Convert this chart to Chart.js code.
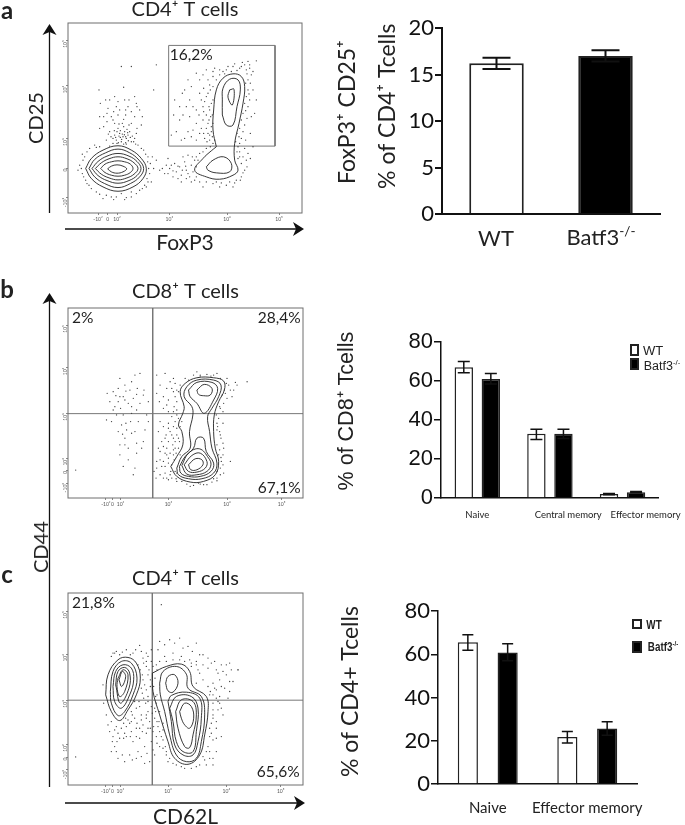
<!DOCTYPE html>
<html>
<head>
<meta charset="utf-8">
<script src="https://cdn.jsdelivr.net/npm/chart.js@4"></script>
<style>
  html, body { margin: 0; background: #fff; width: 685px; height: 825px; overflow: hidden; }
  canvas, .txt, svg { position: absolute; }
  .txt { color: #222; font-family: Lato, sans-serif; white-space: nowrap; transform: translate(-50%, -50%); }
  .txt sup { font-size: 62%; line-height: 0; }
  .box { position: absolute; box-sizing: border-box; border: 2px solid #222; background: #fff; }
  .box.black { background: #000; }
</style>
</head>
<body>
<svg width="685" height="825" style="left:0;top:0">
  <g stroke="#111" stroke-width="1.3" fill="none">
    <path d="M49.5 213V30M65 229H298"/>
    <path d="M49.5 787V299M65 803H300"/>
  </g>
  <g fill="#111">
    <path d="M49.5 24l7 11-7-3-7 3zM304 229l-11-7 3 7-3 7z"/>
    <path d="M49.5 293l7 11-7-3-7 3zM305 803l-11-7 3 7-3 7z"/>
  </g>
</svg>
<script>
// panel a, flow plot (readings in plot channel units)
const ticksAx = [295, 324, 352, 509, 682, 838];
const ticksAxText = ['-10²', '0', '10²', '10³', '10⁴', '10⁵'];
const ticksAy = [122, 258, 415, 505, 593];
const ticksAyText = ['10⁵', '10⁴', '10³', '0', '-10²'];
const gateA = [507,137, 826,137, 826,438, 507,438];
const contoursA = [
  [258,505, 275,475, 310,450, 355,437, 395,450, 425,475, 440,505, 430,535, 400,560, 355,573, 310,560, 275,535],
  [268,505, 285,478, 318,458, 355,447, 390,458, 418,480, 432,505, 420,530, 392,550, 355,562, 315,550, 285,530],
  [277,505, 295,484, 322,468, 355,460, 388,468, 412,484, 424,505, 412,526, 388,541, 355,549, 322,541, 295,526],
  [287,505, 305,488, 328,476, 355,470, 382,476, 403,488, 415,505, 403,522, 382,533, 355,539, 328,533, 305,522],
  [303,505, 316,492, 335,485, 355,482, 375,485, 392,492, 400,505, 392,517, 375,525, 355,528, 335,525, 316,517],
  [324,506, 335,498, 352,494, 370,498, 381,506, 370,515, 352,519, 335,515],
  [650,440, 640,390, 642,330, 650,270, 670,235, 700,222, 725,230, 735,260, 730,310, 718,370, 705,430, 705,480, 715,510, 700,525, 660,537, 620,530, 585,510, 610,475, 635,452],
  [668,345, 668,300, 670,265, 690,238, 715,240, 722,270, 712,320, 700,375, 680,375],
  [690,270, 703,268, 698,315, 685,292],
  [620,500, 640,480, 672,470, 695,490, 690,515, 650,518, 625,510]
];
const cellsA = [
  370,410, 360,400, 380,415, 350,420, 375,395, 385,405, 365,425, 345,405, 390,395, 355,385, 372,380, 340,430, 395,425, 378,428, 362,412, 352,395, 382,388, 368,370, 345,370, 395,370, 330,395, 410,400, 320,420, 312,380, 300,350, 335,350, 355,345, 378,345, 405,350, 420,330, 385,320, 350,320, 325,325, 298,270, 345,290, 375,300, 405,290, 372,262, 425,375, 322,365, 365,200, 395,200, 470,195, 462,270,
  358,408, 366,418, 374,404, 384,398, 392,412, 348,412, 356,428, 372,432, 386,422, 362,392, 378,410, 368,402, 352,430, 340,415, 398,408, 344,392, 334,410, 326,402, 405,415, 412,385, 388,375, 358,372, 372,358, 340,360, 312,350, 322,340, 360,330, 395,335, 412,320, 342,335, 378,330, 302,310, 330,300, 355,305, 388,300, 410,310, 428,350, 318,300, 300,385,
  245,505, 250,480, 252,530, 262,455, 270,445, 285,435, 262,550, 275,565, 290,575, 320,585, 350,590, 380,592, 410,580, 428,565, 445,545, 450,520, 452,490, 445,470, 432,450, 415,435, 300,440, 402,425, 235,510, 310,595, 375,598, 440,560,
  240,495, 248,520, 255,470, 258,540, 268,555, 300,582, 335,590, 365,580, 395,575, 420,570, 435,555, 442,535, 447,505, 444,485, 438,462, 425,445, 408,432, 380,432, 330,438, 290,442, 248,462, 342,598, 395,590, 455,545, 462,505, 458,470,
  480,510, 495,520, 510,505, 525,490, 530,515, 540,500, 545,525, 555,485, 560,510, 570,530, 575,495, 585,480, 590,470, 600,460, 565,465, 550,470, 520,530, 500,495, 470,480, 505,475, 545,545, 585,540, 600,545, 620,545, 640,550, 665,548, 690,545, 710,540, 725,530, 735,510, 725,490, 720,470, 745,460, 742,500, 715,475, 720,455, 700,560, 660,560, 610,560,
  488,505, 505,520, 515,495, 520,512, 535,498, 548,510, 558,498, 565,520, 580,515, 590,500, 578,470, 595,480, 610,455, 620,445, 632,440, 560,535, 535,535, 575,545, 590,530, 650,545, 680,555, 705,548, 722,540, 730,518, 740,480, 730,470, 712,455, 715,440, 735,445, 752,475, 760,440,
  640,430, 630,420, 625,400, 635,395, 615,415, 640,370, 628,360, 620,385, 610,360, 600,400, 590,420, 575,410, 545,420, 530,395, 515,405, 540,360, 570,350, 590,330, 610,320, 630,330, 620,290, 600,280, 575,260, 555,270, 600,240, 625,240, 640,230, 645,205, 620,210, 550,345, 522,345, 570,300, 640,300, 632,270, 650,240, 660,225, 680,210, 700,200, 720,205, 735,195, 750,205, 755,225, 745,240, 712,212, 695,215, 728,188, 745,185, 770,183, 675,222,
  645,420, 638,410, 630,405, 622,425, 612,400, 605,385, 635,380, 625,370, 633,350, 620,345, 612,335, 638,345, 628,320, 615,305, 635,310, 625,280, 612,265, 630,255, 640,260, 605,300, 590,370, 580,390, 565,395, 555,415, 598,345, 580,320, 560,320, 540,320, 525,300, 548,280, 565,240, 590,220, 610,225, 640,215, 660,210, 670,215, 685,200, 705,192, 725,200, 740,210, 750,195, 760,215, 742,222, 752,250, 748,282, 738,332, 742,355, 730,395, 718,410, 738,420, 720,430, 752,400, 770,300,
  738,250, 745,270, 740,290, 735,310, 745,320, 730,340, 725,360, 735,375, 720,385, 712,400, 725,415, 708,425, 750,300, 760,270, 755,350, 765,340
];
const labelsA = ['16,2%'];

// panel b, flow plot
const ticksBx = [318, 338, 362, 505, 680, 843];
const ticksBy = [150, 278, 415, 550, 588, 625];
const ticksByText = ['10⁵', '10⁴', '10³', '10²', '0', '-10²'];
const quadB = [458, 416];
const contoursB = [
  [512,575, 530,545, 548,510, 545,470, 535,450, 548,415, 552,395, 540,350, 555,325, 590,308, 640,308, 670,318, 672,345, 655,380, 642,420, 640,470, 645,520, 655,560, 645,600, 610,620, 570,622, 530,605],
  [530,580, 545,545, 570,520, 568,470, 578,420, 575,395, 552,365, 560,335, 590,315, 640,315, 662,330, 655,365, 635,400, 622,425, 628,470, 635,520, 650,565, 640,595, 605,612, 565,612, 535,600],
  [565,345, 590,322, 635,322, 652,340, 640,375, 612,415, 590,385, 570,365],
  [590,345, 612,328, 635,340, 630,360, 610,362, 595,358],
  [538,575, 555,545, 580,520, 590,490, 610,490, 618,530, 640,565, 632,590, 600,605, 565,605, 542,595],
  [545,572, 565,535, 598,522, 625,550, 632,570, 620,590, 590,600, 560,598],
  [552,570, 575,542, 600,535, 620,560, 615,580, 590,592, 565,590],
  [565,570, 585,552, 605,555, 608,570, 590,585, 572,585]
];
const cellsB = [
  228,586,
  322,355, 340,350, 355,340, 375,330, 395,320, 420,295, 412,340, 390,345, 370,365, 355,380, 385,385, 400,370, 430,360, 445,380, 340,405, 370,420, 395,415, 415,440, 320,435, 365,450, 380,465, 405,470, 375,490, 360,510, 385,520, 410,535, 370,575, 405,580, 425,520, 435,465, 348,362, 378,348, 410,358, 362,400, 392,440, 378,445, 368,478,
  330,380, 345,395, 360,365, 375,375, 395,395, 410,405, 420,385, 440,420, 350,420, 335,440, 355,470, 375,510, 395,475, 410,505, 360,540, 385,555, 400,600, 430,500, 445,440, 432,345, 405,300, 360,310,
  470,300, 495,295, 510,320, 480,330, 520,350, 505,375, 530,380, 470,355, 490,400, 515,425, 535,430, 505,445, 480,440, 530,460, 515,480, 495,490, 525,500, 500,520, 480,530, 520,525, 535,520, 505,550, 490,560, 515,570, 470,580, 495,595, 510,600, 480,600, 540,540, 530,405, 525,440, 510,470, 490,515, 518,510, 530,480, 500,540, 522,555, 512,590, 485,575, 475,520, 505,410, 522,395, 545,440, 538,500, 528,535, 498,480,
  535,350, 525,365, 515,340, 500,340, 490,365, 478,380, 500,390, 520,410, 540,455, 530,420, 520,455, 505,460, 490,455, 475,470, 485,500, 505,500, 520,490, 535,490, 510,535, 525,520, 495,535, 505,565, 520,540, 495,575, 480,555, 470,560, 500,610, 515,610, 525,590, 490,610, 530,595, 462,590, 468,610,
  590,290, 620,298, 650,295, 680,310, 705,322, 740,320, 690,345, 710,330, 680,370, 670,385, 660,400, 655,430, 668,445, 650,465, 662,490, 650,510, 668,540, 660,580, 670,595, 650,610, 620,630, 580,632, 545,620, 690,560, 600,303, 565,315, 640,300, 685,330, 675,355, 668,410, 650,445, 658,470, 670,520, 655,540, 663,560, 635,622, 600,628, 560,628, 528,612,
  660,310, 678,325, 700,345, 695,365, 672,345, 665,360, 658,395, 648,420, 652,455, 660,480, 668,505, 658,525, 660,600, 668,570, 662,548, 650,590, 600,300, 632,303, 580,300, 555,310, 540,330, 530,345, 525,325, 520,310, 610,630, 595,625, 570,635, 530,620, 505,615, 650,618, 640,612
];
const labelsB = ['2%', '28,4%', '67,1%'];

// panel c, flow plot
const ticksCx = [318, 338, 362, 505, 680, 843];
const ticksCy = [170, 298, 436, 568, 608, 645];
const ticksCyText = ['10⁵', '10⁴', '10³', '10²', '0', '-10²'];
const quadC = [458, 436];
const contoursC = [
  [318,420, 325,360, 355,315, 385,308, 410,325, 422,370, 410,420, 385,465, 360,497, 335,470],
  [332,410, 340,350, 365,320, 395,325, 412,370, 400,420, 375,470, 355,482, 335,445],
  [340,395, 348,350, 370,330, 395,340, 402,375, 390,420, 365,460, 345,440],
  [348,390, 355,350, 375,338, 390,355, 388,400, 362,445],
  [355,370, 370,345, 385,360, 375,410, 360,425, 352,395],
  [358,375, 368,350, 378,365, 366,395],
  [458,355, 500,335, 545,328, 570,350, 580,395, 620,425, 625,470, 615,540, 600,600, 565,628, 525,610, 505,560, 480,480, 460,410],
  [480,385, 490,350, 530,335, 560,358, 565,400, 605,425, 615,480, 605,560, 590,610, 560,620, 530,600, 510,540, 495,470, 482,420],
  [498,385, 505,365, 525,360, 535,385, 520,412, 505,408],
  [505,440, 515,422, 560,412, 600,430, 605,490, 595,560, 580,600, 550,600, 525,570, 515,500],
  [510,460, 530,425, 575,425, 595,460, 590,530, 580,590, 550,590, 530,560, 520,500],
  [528,470, 545,435, 580,440, 590,480, 580,540, 570,578, 555,575, 535,520],
  [540,470, 555,445, 575,455, 582,490, 570,520, 555,510, 545,490]
];
const cellsC = [
  228,606, 485,150,
  345,295, 360,300, 380,285, 400,295, 420,272, 430,310, 415,330, 440,335, 428,360, 435,390, 448,345, 452,375, 428,415, 445,425, 438,445, 420,455, 405,440, 395,470, 405,490, 385,495, 425,480, 445,470, 455,455, 340,295, 310,390, 312,445, 320,480, 335,500, 350,515, 365,520, 380,515, 395,530, 410,520, 430,510, 450,500, 465,490, 475,515, 460,530, 440,535, 420,550, 400,560, 380,545, 360,550, 345,575, 335,590, 355,610, 375,620, 390,600, 415,590, 435,575, 455,560, 470,545, 480,575, 465,600, 450,620, 435,625, 330,530, 340,545, 325,510, 410,610,
  335,305, 350,290, 368,292, 392,300, 408,285, 425,290, 440,295, 455,285, 432,325, 422,345, 430,375, 440,405, 425,400, 445,360, 452,395, 445,440, 432,430, 418,440, 410,460, 398,480, 378,490, 372,505, 390,505, 412,505, 425,495, 440,490, 458,475, 468,470, 472,500, 462,515, 445,520, 428,530, 410,545, 392,545, 372,550, 352,560, 338,560, 350,590, 368,600, 398,615, 425,605, 442,595, 460,585, 472,565, 485,545, 490,525,
  480,260, 510,255, 540,250, 565,275, 590,265, 475,285, 495,305, 520,295, 545,305, 570,315, 600,300, 625,310, 590,330, 600,355, 625,340, 650,345, 665,330, 690,325, 715,345, 680,360, 660,375, 640,385, 625,395, 650,405, 675,400, 660,425, 640,420, 685,430, 640,445, 655,465, 670,480, 640,490, 630,520, 650,520, 665,545, 640,555, 625,575, 650,590, 630,610, 600,630, 640,630, 575,640, 545,635, 520,625, 500,600, 490,580, 505,620, 470,330, 455,320, 445,305, 480,320,
  500,320, 520,315, 540,315, 555,320, 575,335, 590,320, 610,330, 635,325, 655,355, 670,350, 695,345, 690,380, 665,395, 645,400, 632,410, 650,430, 665,460, 640,480, 650,500, 635,535, 650,550, 630,590, 640,610, 610,605, 620,630, 590,635, 555,640, 530,630, 510,610, 497,575, 500,590, 490,555, 480,530, 478,500, 465,460, 472,420, 466,370, 472,345, 460,335, 440,320, 495,270, 525,265, 550,280, 578,290, 610,300, 645,320, 680,330, 715,345,
  575,325, 595,345, 610,375, 590,385, 630,420, 640,465, 635,505, 630,545, 620,590, 615,615, 490,505, 470,445, 480,470, 468,425, 462,395, 440,480, 452,520, 420,520, 395,500, 375,535, 355,535, 345,525, 660,445, 690,410, 700,380, 655,440
];
const labelsC = ['21,8%', '65,6%'];

// bar panels
const categoriesA = ['WT', 'Batf3-/-'];
const meansA = [16.2, 17.0];
const topsA = [16.8, 17.6];
const lowsA = [15.6, 16.4];

const categoriesB = ['Naive', 'Central memory', 'Effector memory'];
const wtB = [67, 33, 2];
const wtTopB = [70, 35.2, 2.3];
const wtLowB = [64.2, 30, 1.7];
const koB = [61, 33, 3];
const koTopB = [63.8, 35.2, 3.3];
const koLowB = [58.5, 30.5, 2.7];

const categoriesC = ['Naive', 'Effector memory'];
const wtC = [65.5, 21.7];
const wtTopC = [69, 24.3];
const wtLowC = [61.8, 19];
const koC = [60.8, 25.7];
const koTopC = [64.8, 28.8];
const koLowC = [57, 22.5];

const LATO = 'Lato, sans-serif';
const ARIAL = '"Liberation Sans", sans-serif';

function pts(flat, close) {
  const out = [];
  for (let i = 0; i < flat.length; i += 2) out.push({ x: flat[i], y: flat[i + 1] });
  if (close) out.push(out[0]);
  return out;
}

function addCanvas(left, top, w, h) {
  const c = document.createElement('canvas');
  c.width = w; c.height = h;
  c.style.left = left + 'px'; c.style.top = top + 'px';
  document.body.appendChild(c);
  return c;
}

function addText(html, x, y, css) {
  const d = document.createElement('div');
  d.className = 'txt';
  d.innerHTML = html;
  d.style.left = x + 'px'; d.style.top = y + 'px';
  d.style.cssText += css || '';
  document.body.appendChild(d);
}

function addBox(x, y, w, h, black) {
  const d = document.createElement('div');
  d.className = 'box' + (black ? ' black' : '');
  d.style.cssText = `left:${x}px;top:${y}px;width:${w}px;height:${h}px`;
  document.body.appendChild(d);
}

const framePlugin = {
  id: 'frame',
  afterDatasetsDraw(chart) {
    const a = chart.chartArea, g = chart.ctx;
    g.save();
    g.strokeStyle = '#6e6e6e';
    g.lineWidth = 1;
    g.strokeRect(a.left, a.top, a.right - a.left, a.bottom - a.top);
    g.restore();
  }
};

// percent labels inside the flow plots, anchored in channel units
function textPlugin(items) {
  return {
    id: 'plotText',
    afterDatasetsDraw(chart) {
      const g = chart.ctx;
      g.save();
      g.font = '15.5px ' + LATO;
      g.fillStyle = '#222';
      g.textBaseline = 'middle';
      items.forEach(it => {
        g.textAlign = it.align;
        g.fillText(it.text, chart.scales.x.getPixelForValue(it.x), chart.scales.y.getPixelForValue(it.y));
      });
      g.restore();
    }
  };
}

const errorBars = {
  id: 'errorBars',
  afterDatasetsDraw(chart) {
    const g = chart.ctx, y = chart.scales.y;
    chart.data.datasets.forEach((ds, k) => {
      const meta = chart.getDatasetMeta(k);
      g.save();
      g.strokeStyle = '#111';
      g.lineWidth = ds.capWidth;
      meta.data.forEach((bar, i) => {
        const top = y.getPixelForValue(ds.tops[i]), low = y.getPixelForValue(ds.lows[i]);
        g.beginPath();
        g.moveTo(bar.x, top); g.lineTo(bar.x, low);
        g.moveTo(bar.x - ds.capHalf, top); g.lineTo(bar.x + ds.capHalf, top);
        g.moveTo(bar.x - ds.capHalf, low); g.lineTo(bar.x + ds.capHalf, low);
        g.stroke();
      });
      g.restore();
    });
  }
};

function flowChart(o) {
  const datasets = [
    { data: pts(o.cells), pointRadius: 0.65, backgroundColor: '#3c3c3c', borderWidth: 0, pointBorderWidth: 0 }
  ];
  o.contours.forEach(c => datasets.push({
    data: pts(c, true), showLine: true, tension: 0.4, pointRadius: 0, borderColor: '#222', borderWidth: 0.9
  }));
  o.guides.forEach(c => datasets.push({
    data: pts(c, c.length > 4), showLine: true, tension: 0, pointRadius: 0, borderColor: '#777', borderWidth: 1
  }));
  const tickFont = { family: LATO, size: 5 };
  return new Chart(addCanvas(0, o.top, 310, o.height), {
    type: 'scatter',
    data: { datasets },
    plugins: [framePlugin, textPlugin(o.labels)],
    options: {
      animation: false,
      responsive: false,
      layout: { padding: { right: 310 - o.right } },
      plugins: {
        legend: { display: false },
        tooltip: { enabled: false },
        title: { display: true, text: o.title, fullSize: false, color: '#222', padding: { top: 0, bottom: o.titleGap }, font: { family: LATO, size: 20, weight: 'normal', lineHeight: 1.2 } }
      },
      scales: {
        x: {
          min: o.xr[0], max: o.xr[1],
          afterBuildTicks: s => { s.ticks = o.xt.map(v => ({ value: v })); },
          afterFit: s => { s.height = o.xh; },
          ticks: { autoSkip: false, maxRotation: 0, font: tickFont, color: '#555', padding: 1, callback: (v, i) => o.xl[i] },
          grid: { drawOnChartArea: false, tickLength: 2, color: '#888' },
          border: { display: false },
          title: o.xTitle ? { display: true, text: o.xTitle, color: '#222', padding: { top: 0, bottom: o.xPad }, font: { family: LATO, size: 21, lineHeight: 1.15 } } : { display: false }
        },
        y: {
          min: o.yr[0], max: o.yr[1], reverse: true,
          afterBuildTicks: s => { s.ticks = o.yt.map(v => ({ value: v })); },
          afterFit: s => { s.width = o.left; },
          ticks: { autoSkip: false, minRotation: 90, maxRotation: 90, font: tickFont, color: '#555', padding: 1, callback: (v, i) => o.yl[i] },
          grid: { drawOnChartArea: false, tickLength: 2, color: '#888' },
          border: { display: false },
          title: o.yTitle ? { display: true, text: o.yTitle, color: '#222', padding: { top: 25, bottom: 0 }, font: { family: LATO, size: 20, lineHeight: 1.2 } } : { display: false }
        }
      }
    }
  });
}

function barChart(o) {
  const datasets = o.series.map(s => ({
    data: s.values, tops: s.tops, lows: s.lows,
    backgroundColor: s.fill,
    borderColor: '#222', borderWidth: o.barLine,
    barPercentage: o.barPct, categoryPercentage: o.catPct,
    capHalf: o.capHalf, capWidth: o.capWidth
  }));
  return new Chart(addCanvas(320, o.top, 365, o.height), {
    type: 'bar',
    data: { labels: o.categories, datasets },
    plugins: [errorBars],
    options: {
      animation: false,
      responsive: false,
      layout: { padding: { top: o.padTop, right: o.padRight } },
      plugins: { legend: { display: false }, tooltip: { enabled: false } },
      scales: {
        x: {
          afterFit: s => { s.height = o.xh; },
          ticks: {
            display: o.showTicks, autoSkip: false, maxRotation: 0, color: '#222', padding: o.tickPad,
            font: { family: LATO, size: o.xFont },
            callback: (v, i) => ' '.repeat(o.shift ? o.shift[i] : 0) + o.categories[i]
          },
          grid: { display: false },
          border: { color: '#111', width: o.axisLine }
        },
        y: {
          min: 0, max: o.max,
          afterFit: s => { s.width = o.yw; },
          ticks: { stepSize: o.step, color: '#111', padding: 1, font: { family: o.tickFamily, size: 22 } },
          grid: { drawOnChartArea: false, tickLength: 7, color: '#111', lineWidth: o.axisLine },
          border: { color: '#111', width: o.axisLine },
          title: { display: true, text: o.yTitle, color: '#222', padding: { top: o.yPad, bottom: 0 }, font: o.yFont }
        }
      }
    }
  });
}

document.fonts.load('20px Lato').finally(() => {
  // flow plots
  flowChart({
    top: -2, height: 257, left: 68, right: 302, xh: 42, titleGap: 1, title: 'CD4⁺ T cells',
    xr: [205, 907], yr: [70, 638], xt: ticksAx, xl: ticksAxText, yt: ticksAy, yl: ticksAyText,
    cells: cellsA, contours: contoursA, guides: [gateA], xTitle: 'FoxP3', xPad: 0, yTitle: 'CD25',
    labels: [{ text: labelsA[0], x: 510, y: 165, align: 'left' }]
  });
  flowChart({
    top: 280, height: 240, left: 68, right: 303, xh: 22, titleGap: 4, title: 'CD8⁺ T cells',
    xr: [205, 907], yr: [98, 670], xt: ticksBx, xl: ticksAxText, yt: ticksBy, yl: ticksByText,
    cells: cellsB, contours: contoursB,
    guides: [[quadB[0], 98, quadB[0], 670], [205, quadB[1], 907, quadB[1]]],
    labels: [
      { text: labelsB[0], x: 217, y: 127, align: 'left' },
      { text: labelsB[1], x: 900, y: 127, align: 'right' },
      { text: labelsB[2], x: 900, y: 640, align: 'right' }
    ]
  });
  flowChart({
    top: 567, height: 263, left: 68, right: 303, xh: 45, titleGap: 2, title: 'CD4⁺ T cells',
    xr: [205, 910], yr: [115, 690], xt: ticksCx, xl: ticksAxText, yt: ticksCy, yl: ticksCyText,
    cells: cellsC, contours: contoursC,
    guides: [[quadC[0], 115, quadC[0], 690], [205, quadC[1], 910, quadC[1]]],
    xTitle: 'CD62L', xPad: 1,
    labels: [
      { text: labelsC[0], x: 217, y: 145, align: 'left' },
      { text: labelsC[1], x: 900, y: 652, align: 'right' }
    ]
  });
  addText('CD44', 40, 547, 'font-size:20px;transform:translate(-50%,-50%) rotate(-90deg)');

  // bar charts
  barChart({
    top: 0, height: 270, padTop: 28, padRight: 25, yw: 122, xh: 56, max: 20, step: 5,
    categories: categoriesA, showTicks: false,
    series: [{ values: meansA, tops: topsA, lows: lowsA, fill: ['#fff', '#000'] }],
    barPct: 0.5, catPct: 1, barLine: 2, capHalf: 14, capWidth: 2, axisLine: 2, tickFamily: LATO,
    yTitle: ['   FoxP3⁺ CD25⁺', '     % of CD4⁺ Tcells'], yPad: 8, yFont: { family: LATO, size: 23, lineHeight: 1.74 }
  });
  barChart({
    top: 320, height: 200, padTop: 22, padRight: 8, yw: 121, xh: 22, max: 80, step: 20,
    categories: categoriesB, showTicks: true, xFont: 9.5, tickPad: 3, shift: [0, 15, 19],
    series: [
      { values: wtB, tops: wtTopB, lows: wtLowB, fill: '#fff' },
      { values: koB, tops: koTopB, lows: koLowB, fill: '#000' }
    ],
    barPct: 0.68, catPct: 0.745, barLine: 1.5, capHalf: 6, capWidth: 1.5, axisLine: 1.5, tickFamily: ARIAL,
    yTitle: '   % of CD8⁺ Tcells', yPad: 14, yFont: { family: ARIAL, size: 21.5, lineHeight: 1.2 }
  });
  barChart({
    top: 590, height: 235, padTop: 21, padRight: 48, yw: 118, xh: 41, max: 80, step: 20,
    categories: categoriesC, showTicks: true, xFont: 15, tickPad: 7,
    series: [
      { values: wtC, tops: wtTopC, lows: wtLowC, fill: '#fff' },
      { values: koC, tops: koTopC, lows: koLowC, fill: '#000' }
    ],
    barPct: 0.506, catPct: 0.8, barLine: 1.5, capHalf: 5.5, capWidth: 1.5, axisLine: 1.5, tickFamily: LATO,
    yTitle: '  % of CD4+ Tcells', yPad: 17, yFont: { family: LATO, size: 23, lineHeight: 1.2 }
  });

  const sup = s => s.replace('-/-', '<sup>-/-</sup>');

  // panel a category labels
  addText(sup(categoriesA[0]), 496, 237, 'font-size:22px');
  addText(sup(categoriesA[1]), 601, 236, 'font-size:22px');

  // legends
  addBox(630, 344, 9, 12, false);
  addBox(630, 358, 9, 12, true);
  addText('WT', 653, 350, `font-family:${ARIAL};font-size:13px`);
  addText(sup('Batf3-/-'), 662, 366, `font-family:${ARIAL};font-size:12.5px`);
  addBox(632, 619, 10, 10, false);
  addBox(632, 641, 10, 12, true);
  const narrow = `font-family:${ARIAL};font-size:12px;font-weight:bold;transform:translate(-50%,-50%) scaleX(0.82)`;
  addText('WT', 654, 625, narrow);
  addText(sup('Batf3-/-'), 663, 647, narrow);

  // panel letters
  addText('a', 7, 9, 'font-size:24px;font-weight:bold');
  addText('b', 7, 288, 'font-size:24px;font-weight:bold');
  addText('c', 7, 573, 'font-size:24px;font-weight:bold');
});
</script>
</body>
</html>
